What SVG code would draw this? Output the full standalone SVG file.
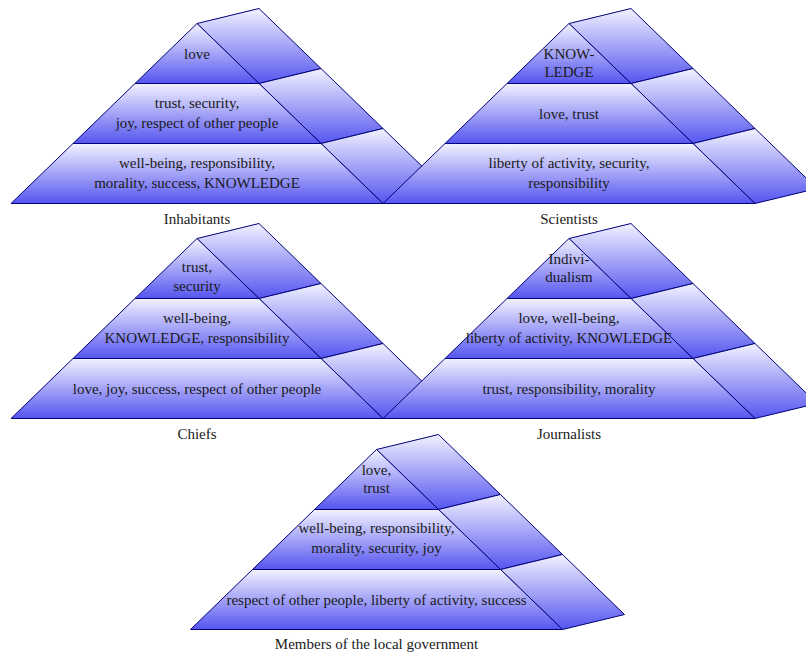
<svg xmlns="http://www.w3.org/2000/svg" xmlns:xlink="http://www.w3.org/1999/xlink" width="806" height="654" viewBox="0 0 806 654">
  <style>
    .band { fill: url(#g); stroke: #00007a; stroke-width: 1; stroke-linejoin: round; }
    .t { font-family: "Liberation Serif", "Times New Roman", serif; font-size: 15px; fill: #1a1a1a; text-anchor: middle; }
  </style>
  <defs>
    <linearGradient id="g" x1="0" y1="0" x2="0" y2="1">
      <stop offset="0" stop-color="#f2f2ff"/>
      <stop offset="1" stop-color="#5555f0"/>
    </linearGradient>
    <g id="pyr">
      <path class="band" d="M0,0 L62,-15 L124,45 L62,60 Z"/>
      <path class="band" d="M62,60 L124,45 L186,105 L124,120 Z"/>
      <path class="band" d="M124,120 L186,105 L248,165 L186,180 Z"/>
      <path class="band" d="M0,0 L62,60 L-62,60 Z"/>
      <path class="band" d="M-62,60 L62,60 L124,120 L-124,120 Z"/>
      <path class="band" d="M-124,120 L124,120 L186,180 L-186,180 Z"/>
    </g>
  </defs>

  <g id="inhabitants">
    <use xlink:href="#pyr" href="#pyr" transform="translate(197,23.5)"/>
    <text class="t" x="197" y="58.5">love</text>
    <text class="t" x="197" y="108">trust, security,</text>
    <text class="t" x="197" y="127.5">joy, respect of other people</text>
    <text class="t" x="197" y="168">well-being, responsibility,</text>
    <text class="t" x="197" y="188">morality, success, KNOWLEDGE</text>
    <text class="t" x="197" y="224">Inhabitants</text>
  </g>

  <g id="scientists">
    <use xlink:href="#pyr" href="#pyr" transform="translate(569,23.5)"/>
    <text class="t" x="569" y="59.3">KNOW-</text>
    <text class="t" x="569" y="77.3">LEDGE</text>
    <text class="t" x="569" y="119">love, trust</text>
    <text class="t" x="569" y="168">liberty of activity, security,</text>
    <text class="t" x="569" y="188">responsibility</text>
    <text class="t" x="569" y="224">Scientists</text>
  </g>

  <g id="chiefs">
    <use xlink:href="#pyr" href="#pyr" transform="translate(197,238.5)"/>
    <text class="t" x="197" y="271.5">trust,</text>
    <text class="t" x="197" y="291">security</text>
    <text class="t" x="197" y="323.3">well-being,</text>
    <text class="t" x="197" y="342.5">KNOWLEDGE, responsibility</text>
    <text class="t" x="197" y="394.3">love, joy, success, respect of other people</text>
    <text class="t" x="197" y="439.3">Chiefs</text>
  </g>

  <g id="journalists">
    <use xlink:href="#pyr" href="#pyr" transform="translate(569,238.5)"/>
    <text class="t" x="569" y="264.3">Indivi-</text>
    <text class="t" x="569" y="282">dualism</text>
    <text class="t" x="569" y="323.3">love, well-being,</text>
    <text class="t" x="569" y="342.7">liberty of activity, KNOWLEDGE</text>
    <text class="t" x="569" y="394">trust, responsibility, morality</text>
    <text class="t" x="569" y="439.3">Journalists</text>
  </g>

  <g id="local-government">
    <use xlink:href="#pyr" href="#pyr" transform="translate(376.5,449.5)"/>
    <text class="t" x="376.5" y="475">love,</text>
    <text class="t" x="376.5" y="492.7">trust</text>
    <text class="t" x="376.5" y="533.3">well-being, responsibility,</text>
    <text class="t" x="376.5" y="552.7">morality, security, joy</text>
    <text class="t" x="376.5" y="605">respect of other people, liberty of activity, success</text>
    <text class="t" x="376.5" y="649.3">Members of the local government</text>
  </g>

  <g id="connectors"/>
</svg>
